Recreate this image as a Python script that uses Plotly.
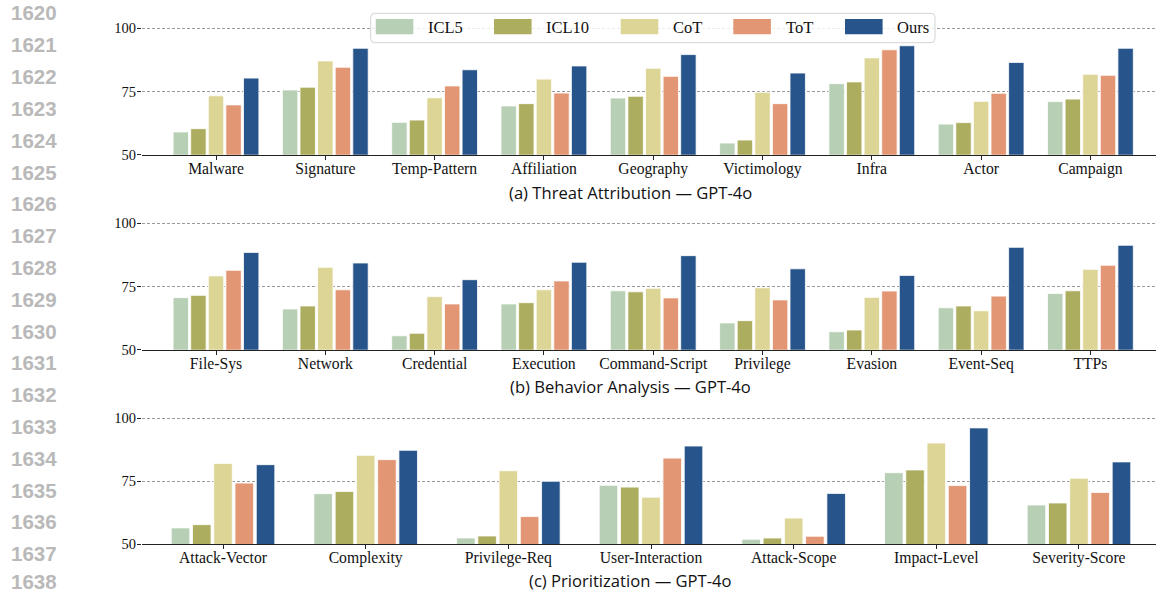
import plotly.graph_objects as go

# ---- data -------------------------------------------------------------
methods = ["ICL5", "ICL10", "CoT", "ToT", "Ours"]
colors = ["#b7cfb4", "#adad60", "#dcd596", "#e29673", "#27548a"]

attr_cats = ["Malware", "Signature", "Temp-Pattern", "Affiliation", "Geography",
             "Victimology", "Infra", "Actor", "Campaign"]
attr_icl5 = [59.0, 75.6, 62.8, 69.3, 72.4, 54.6, 78.1, 62.1, 71.0]
attr_icl10 = [60.3, 76.7, 63.7, 70.2, 73.1, 55.8, 78.8, 62.7, 72.0]
attr_cot = [73.3, 87.1, 72.5, 79.9, 84.2, 74.7, 88.3, 71.1, 81.8]
attr_tot = [69.7, 84.6, 77.2, 74.4, 81.0, 70.2, 91.5, 74.3, 81.4]
attr_ours = [80.3, 92.1, 83.6, 85.1, 89.6, 82.3, 93.1, 86.5, 92.1]

behav_cats = ["File-Sys", "Network", "Credential", "Execution", "Command-Script",
              "Privilege", "Evasion", "Event-Seq", "TTPs"]
behav_icl5 = [70.6, 66.1, 55.5, 68.1, 73.3, 60.6, 57.1, 66.6, 72.2]
behav_icl10 = [71.5, 67.3, 56.5, 68.6, 72.9, 61.5, 57.8, 67.3, 73.3]
behav_cot = [79.2, 82.6, 71.0, 73.7, 74.3, 74.5, 70.7, 65.4, 81.8]
behav_tot = [81.4, 73.7, 68.1, 77.2, 70.5, 69.7, 73.2, 71.2, 83.4]
behav_ours = [88.5, 84.3, 77.7, 84.6, 87.2, 82.0, 79.4, 90.5, 91.3]

prio_cats = ["Attack-Vector", "Complexity", "Privilege-Req", "User-Interaction",
             "Attack-Scope", "Impact-Level", "Severity-Score"]
prio_icl5 = [56.5, 70.1, 52.5, 73.4, 52.0, 78.4, 65.6]
prio_icl10 = [57.8, 71.0, 53.3, 72.7, 52.5, 79.5, 66.4]
prio_cot = [82.1, 85.3, 79.2, 68.7, 60.4, 90.2, 76.2]
prio_tot = [74.3, 83.6, 61.0, 84.2, 53.2, 73.3, 70.6]
prio_ours = [81.6, 87.3, 75.0, 89.0, 70.2, 96.2, 82.7]

y_ticks = [50, 75, 100]
line_numbers = list(range(1620, 1639))

# ---- layout helpers ---------------------------------------------------
W, H = 1156, 594


def px(x):
    return x / W


def py(y):
    return 1 - y / H


SERIF = "Liberation Serif"

panels = [
    dict(cats=attr_cats, series=[attr_icl5, attr_icl10, attr_cot, attr_tot, attr_ours],
         title="(a) Threat Attribution — GPT-4o", y50=154.7, y100=28.3,
         xr=[-0.677, 8.6], pitch=0.161, width=0.141, ty=192.7),
    dict(cats=behav_cats, series=[behav_icl5, behav_icl10, behav_cot, behav_tot, behav_ours],
         title="(b) Behavior Analysis — GPT-4o", y50=349.7, y100=223.3,
         xr=[-0.677, 8.6], pitch=0.161, width=0.141, ty=386.7),
    dict(cats=prio_cats, series=[prio_icl5, prio_icl10, prio_cot, prio_tot, prio_ours],
         title="(c) Prioritization — GPT-4o", y50=544.3, y100=418.3,
         xr=[-0.568, 6.54], pitch=0.149, width=0.13, ty=580.0),
]

fig = go.Figure()
layout_axes = {}
annotations = []
Y_TOP = 100.5

for p_idx, p in enumerate(panels):
    suffix = "" if p_idx == 0 else str(p_idx + 1)
    xa, ya = "x" + suffix, "y" + suffix
    for i, (name, vals) in enumerate(zip(methods, p["series"])):
        center = (i - 2) * p["pitch"]
        fig.add_trace(go.Bar(
            x=p["cats"], y=vals, name=name, xaxis=xa, yaxis=ya,
            offset=center - p["width"] / 2, width=p["width"],
            marker=dict(color=colors[i], line=dict(color="white", width=0.8)),
            showlegend=False,
        ))
    ppu = (p["y50"] - p["y100"]) / 50.0
    top_px = p["y100"] - (Y_TOP - 100) * ppu
    layout_axes["xaxis" + suffix] = dict(
        domain=[px(142), 1.0], anchor=ya, type="category",
        categoryorder="array", categoryarray=p["cats"], range=p["xr"],
        showline=True, linecolor="#222222", linewidth=1.3,
        ticks="outside", ticklen=4, tickwidth=1, tickcolor="#222222",
        tickfont=dict(family=SERIF, size=15.7, color="#111111"),
        showgrid=False, zeroline=False, automargin=False,
    )
    layout_axes["yaxis" + suffix] = dict(
        domain=[py(p["y50"]), py(top_px)], anchor=xa,
        range=[50, Y_TOP], tickvals=y_ticks,
        ticks="outside", ticklen=4, tickwidth=1, tickcolor="#222222",
        tickfont=dict(family=SERIF, size=14.5, color="#111111"),
        showline=False, zeroline=False, automargin=False,
        showgrid=True, gridcolor="#9a9a9a", gridwidth=0.8, griddash="3px,2px",
    )
    annotations.append(dict(
        text=p["title"], xref="paper", yref="paper", x=px(630.5), y=py(p["ty"]),
        xanchor="center", yanchor="middle", showarrow=False,
        font=dict(family="Open Sans", size=16.6, color="#111111"),
    ))

# gray line numbers down the left margin (last one kept inside the page)
for k, n in enumerate(line_numbers):
    yc = 13 + 31.8 * k
    last = k == len(line_numbers) - 1
    annotations.append(dict(
        text=f"<b>{n}</b>", xref="paper", yref="paper", x=px(10),
        y=0.0 if last else py(yc),
        xanchor="left", yanchor="bottom" if last else "middle",
        showarrow=False, borderpad=0,
        font=dict(family="Liberation Sans", size=20.5, color="#b9b9b9"),
    ))

# legend drawn as a framed row of swatches
shapes = []
lx0, lx1, ly0, ly1, r = 370.7, 935.0, 13.3, 42.7, 4.0
frame = (
    f"M {px(lx0 + r)},{py(ly0)} L {px(lx1 - r)},{py(ly0)} "
    f"Q {px(lx1)},{py(ly0)} {px(lx1)},{py(ly0 + r)} "
    f"L {px(lx1)},{py(ly1 - r)} Q {px(lx1)},{py(ly1)} {px(lx1 - r)},{py(ly1)} "
    f"L {px(lx0 + r)},{py(ly1)} Q {px(lx0)},{py(ly1)} {px(lx0)},{py(ly1 - r)} "
    f"L {px(lx0)},{py(ly0 + r)} Q {px(lx0)},{py(ly0)} {px(lx0 + r)},{py(ly0)} Z"
)
shapes.append(dict(type="path", path=frame, xref="paper", yref="paper",
                   fillcolor="rgba(255,255,255,0.8)",
                   line=dict(color="#d4d4d4", width=1), layer="above"))
swatch_left = [375.7, 494.0, 620.7, 733.3, 845.0]
for name, col, sx in zip(methods, colors, swatch_left):
    shapes.append(dict(type="rect", xref="paper", yref="paper",
                       x0=px(sx), x1=px(sx + 37.6), y0=py(34.3), y1=py(19.0),
                       fillcolor=col, line=dict(width=0), layer="above"))
    annotations.append(dict(
        text=name, xref="paper", yref="paper", x=px(sx + 50.3), y=py(27.5),
        xanchor="left", yanchor="middle", showarrow=False,
        font=dict(family=SERIF, size=16.5, color="#111111"),
    ))

fig.update_layout(
    width=W, height=H,
    margin=dict(l=0, r=0, t=0, b=0, pad=0, autoexpand=False),
    paper_bgcolor="white", plot_bgcolor="white",
    barmode="overlay", showlegend=False,
    annotations=annotations, shapes=shapes,
    **layout_axes,
)

# pull tick labels a little closer to the axes
try:
    fig.update_xaxes(ticklabelstandoff=-5)
    fig.update_yaxes(ticklabelstandoff=-2)
except ValueError:
    pass

fig.write_html("out.html", config={"responsive": False})
